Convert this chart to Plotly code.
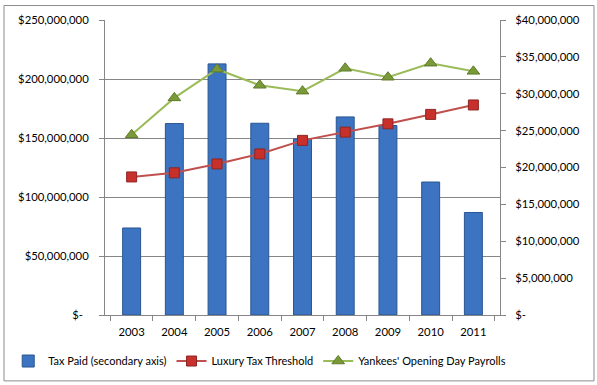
import plotly.graph_objects as go

years = ["2003", "2004", "2005", "2006", "2007", "2008", "2009", "2010", "2011"]
tax_paid = [11.8e6, 25.96e6, 34.05e6, 26.0e6, 23.88e6, 26.86e6, 25.69e6, 18.03e6, 13.9e6]
luxury_threshold = [117.0e6, 120.5e6, 128.0e6, 136.5e6, 148.0e6, 155.0e6, 162.0e6, 170.0e6, 178.0e6]
yankees_payroll = [152.7e6, 184.0e6, 208.3e6, 194.7e6, 189.7e6, 209.1e6, 201.5e6, 213.4e6, 206.5e6]

left_ticks = [0, 50e6, 100e6, 150e6, 200e6, 250e6]
left_labels = ["$-\u00a0\u00a0", "$50,000,000", "$100,000,000", "$150,000,000", "$200,000,000", "$250,000,000"]
right_ticks = [0, 5e6, 10e6, 15e6, 20e6, 25e6, 30e6, 35e6, 40e6]
right_labels = ["$-", "$5,000,000", "$10,000,000", "$15,000,000", "$20,000,000",
                "$25,000,000", "$30,000,000", "$35,000,000", "$40,000,000"]

FONT = "Lato"
AX = "#868686"
TS = 11.3

fig = go.Figure()
fig.add_trace(go.Bar(
    x=years, y=tax_paid, name="Tax Paid (secondary axis)", yaxis="y",
    marker=dict(color="#3C74C2", line=dict(color="#2A5592", width=1)),
    width=0.42,
))
fig.add_trace(go.Scatter(
    x=years, y=luxury_threshold, name="Luxury Tax Threshold", yaxis="y2",
    mode="lines+markers",
    line=dict(color="#C0504D", width=2),
    marker=dict(symbol="square", size=10, color="#C8302C", line=dict(color="#8E2522", width=1)),
))
fig.add_trace(go.Scatter(
    x=years, y=yankees_payroll, name="Yankees' Opening Day Payrolls", yaxis="y2",
    mode="lines+markers",
    line=dict(color="#9BBB59", width=2),
    marker=dict(symbol="triangle-up", size=11, color="#7A9A38", line=dict(color="#5E7A2A", width=1)),
))

fig.update_layout(
    width=597, height=385,
    margin=dict(l=105, r=97, t=19.5, b=70, autoexpand=False),
    paper_bgcolor="white", plot_bgcolor="white",
    font=dict(family=FONT, size=TS, color="#000000"),
    showlegend=True,
    legend=dict(orientation="h", x=-0.245, xanchor="left",
                y=-0.156, yanchor="middle",
                font=dict(family=FONT, size=11), itemwidth=30, tracegroupgap=0,
                bgcolor="rgba(0,0,0,0)"),
    bargap=0.58,
    xaxis=dict(
        type="category", showgrid=False, showline=True, linecolor=AX, linewidth=1,
        ticks="outside", tickson="boundaries", ticklen=5, tickcolor=AX,
        tickfont=dict(family=FONT, size=TS), automargin=False, ticklabelstandoff=6,
    ),
    yaxis=dict(
        side="right", range=[0, 40e6], tickvals=right_ticks, ticktext=right_labels,
        showgrid=False, showline=True, linecolor=AX, linewidth=1,
        ticks="outside", ticklen=5, tickcolor=AX, zeroline=False,
        tickfont=dict(family=FONT, size=TS), automargin=False, ticklabelstandoff=7,
    ),
    yaxis2=dict(
        side="left", overlaying="y", range=[0, 250e6], tickvals=left_ticks, ticktext=left_labels,
        showgrid=True, gridcolor=AX, gridwidth=1, showline=True, linecolor=AX, linewidth=1,
        ticks="outside", ticklen=5, tickcolor=AX, zeroline=False,
        tickfont=dict(family=FONT, size=TS), automargin=False, ticklabelstandoff=8,
    ),
    shapes=[dict(type="rect", xref="paper", yref="paper",
                 x0=-0.2557, x1=1.238, y0=-0.2234, y1=1.049,
                 line=dict(color="#8C8C8C", width=1), fillcolor="rgba(0,0,0,0)", layer="below")],
)

fig.write_html("out.html", config={"displayModeBar": False},
               post_script="document.body.style.margin='0';")
